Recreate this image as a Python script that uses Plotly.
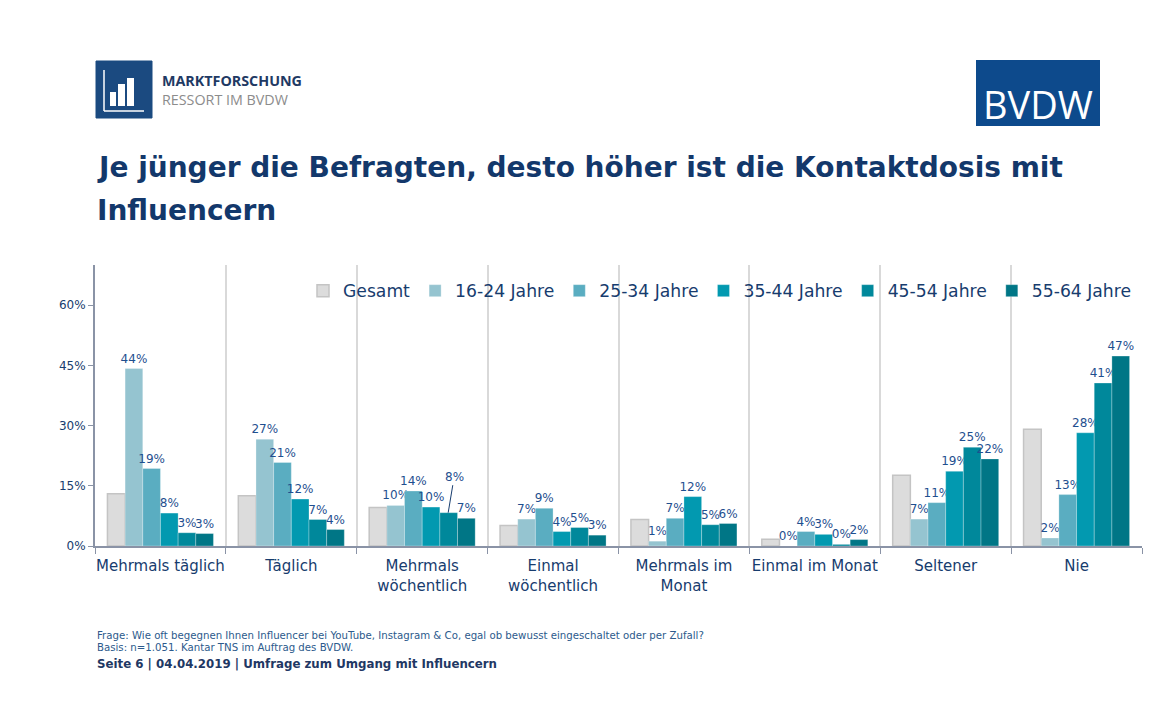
import plotly.graph_objects as go

categories = ["Mehrmals täglich", "Täglich", "Mehrmals<br>wöchentlich", "Einmal<br>wöchentlich",
              "Mehrmals im<br>Monat", "Einmal im Monat", "Seltener", "Nie"]
series_names = ["Gesamt", "16-24 Jahre", "25-34 Jahre", "35-44 Jahre", "45-54 Jahre", "55-64 Jahre"]

gesamt = [13.0, 12.5, 9.6, 5.1, 6.6, 1.7, 17.6, 29.1]
j16_24 = [44.2, 26.6, 10.1, 6.7, 1.2, 0.0, 6.7, 2.0]
j25_34 = [19.3, 20.8, 13.7, 9.4, 6.9, 3.6, 10.8, 12.8]
j35_44 = [8.2, 11.7, 9.7, 3.6, 12.3, 2.9, 18.6, 28.2]
j45_54 = [3.3, 6.6, 8.3, 4.6, 5.3, 0.4, 24.6, 40.6]
j55_64 = [3.1, 4.1, 6.9, 2.7, 5.6, 1.6, 21.7, 47.3]

y_ticks = [0, 15, 30, 45, 60]
y_tick_labels = ["0%", "15%", "30%", "45%", "60%"]

colors = ["#dcdcdc", "#95c4d0", "#5aadc1", "#0299b0", "#00889b", "#007686"]

navy = "#173c6e"
label_blue = "#1f4f8f"

# the page puts the figure 8px in from the top left corner
OFF = 8
W, H = 1153 - 2 * OFF, 723 - 2 * OFF
# plot area in page pixels
X0, X1, Y0, Y1 = 95, 1142, 265, 546


def px(x):
    return (x - X0) / (X1 - X0)


def py(y):
    return (Y1 - y) / (Y1 - Y0)


fig = go.Figure()
all_series = [gesamt, j16_24, j25_34, j35_44, j45_54, j55_64]
for i, (name, vals) in enumerate(zip(series_names, all_series)):
    if i == 0:
        texts = ["" for v in vals]
        line = dict(color="#c4c4c4", width=1.5)
    else:
        texts = ["%d%%" % int(v + 0.5) for v in vals]
        line = dict(color="rgba(255,255,255,0.35)", width=0.8)
    if i == 4:
        texts[2] = ""  # shown with a leader line below
    fig.add_trace(go.Bar(
        x=categories, y=vals, name=name, marker=dict(color=colors[i], line=line),
        text=texts, textposition="outside", cliponaxis=False, constraintext="none",
        textfont=dict(size=12, color=label_blue, family="DejaVu Sans"),
    ))

# leader-line label for 45-54 in "Mehrmals wöchentlich"
fig.add_annotation(x=categories[2], y=j45_54[2], xshift=26, text="8%", showarrow=True,
                   arrowhead=0, arrowwidth=1, arrowcolor=navy, ax=6, ay=-36,
                   font=dict(size=12, color=label_blue, family="DejaVu Sans"))

fig.update_layout(
    width=W, height=H,
    margin=dict(l=X0 - OFF, r=W - (X1 - OFF), t=Y0 - OFF, b=H - (Y1 - OFF), pad=0,
                autoexpand=False),
    paper_bgcolor="white", plot_bgcolor="white",
    barmode="group", bargap=0.19, bargroupgap=0,
    font=dict(family="DejaVu Sans", color=navy),
    showlegend=True,
    legend=dict(orientation="h", x=px(303), y=py(291), xanchor="left", yanchor="middle",
                font=dict(size=17.2, color=navy), bgcolor="rgba(0,0,0,0)",
                traceorder="normal", itemclick=False),
)

fig.update_yaxes(range=[0, 70], tickvals=y_ticks, ticktext=y_tick_labels,
                 showgrid=False, zeroline=False, showline=True, linecolor="#8a93a6", linewidth=2,
                 ticks="outside", ticklen=5, tickcolor="#8a93a6",
                 tickfont=dict(size=12, color=navy))
fig.update_xaxes(tickson="boundaries", tickangle=0, showgrid=True, gridcolor="#d9d9d9", gridwidth=1.5,
                 showline=True, linecolor="#8a93a6", linewidth=2,
                 ticks="outside", ticklen=6, tickcolor="#8a93a6", ticklabelstandoff=5,
                 tickfont=dict(size=15, color=navy))

# title
fig.add_annotation(xref="paper", yref="paper", x=px(95), y=py(167), xanchor="left", yanchor="middle",
                   text="<b>Je jünger die Befragten, desto höher ist die Kontaktdosis mit</b>",
                   showarrow=False, font=dict(size=28, color="#13386b"))
fig.add_annotation(xref="paper", yref="paper", x=px(95), y=py(210), xanchor="left", yanchor="middle",
                   text="<b>Influencern</b>", showarrow=False, font=dict(size=28, color="#13386b"))

# left logo
shapes = [
    dict(type="rect", xref="paper", yref="paper", x0=px(96), x1=px(152), y0=py(118), y1=py(61),
         fillcolor="#1b4a80", line=dict(color="#1b4a80", width=1)),
    dict(type="line", xref="paper", yref="paper", x0=px(104), x1=px(104), y0=py(111), y1=py(70),
         line=dict(color="white", width=1.5)),
    dict(type="line", xref="paper", yref="paper", x0=px(104), x1=px(144), y0=py(111), y1=py(111),
         line=dict(color="white", width=1.5)),
    dict(type="rect", xref="paper", yref="paper", x0=px(110), x1=px(116), y0=py(106), y1=py(92),
         fillcolor="white", line=dict(width=0)),
    dict(type="rect", xref="paper", yref="paper", x0=px(118), x1=px(125), y0=py(106), y1=py(84),
         fillcolor="white", line=dict(width=0)),
    dict(type="rect", xref="paper", yref="paper", x0=px(127), x1=px(134), y0=py(106), y1=py(78),
         fillcolor="white", line=dict(width=0)),
    # BVDW logo
    dict(type="rect", xref="paper", yref="paper", x0=px(976), x1=px(1100), y0=py(126), y1=py(60),
         fillcolor="#0d4a8c", line=dict(width=0)),
]
fig.update_layout(shapes=shapes)

fig.add_annotation(xref="paper", yref="paper", x=px(160), y=py(80.5), xanchor="left", yanchor="middle",
                   text="<b>MARKTFORSCHUNG</b>", showarrow=False,
                   font=dict(size=14.3, color="#1f3a64", family="Open Sans"))
fig.add_annotation(xref="paper", yref="paper", x=px(160), y=py(99.5), xanchor="left", yanchor="middle",
                   text="RESSORT IM BVDW", showarrow=False,
                   font=dict(size=14.3, color="#8c8c8c", family="Open Sans"))
fig.add_annotation(xref="paper", yref="paper", x=px(1038), y=py(104), xanchor="center", yanchor="middle",
                   text="BVDW", showarrow=False,
                   font=dict(size=38, color="white", family="Open Sans"))

# footer
fig.add_annotation(xref="paper", yref="paper", x=px(95), y=py(635), xanchor="left", yanchor="middle",
                   text="Frage: Wie oft begegnen Ihnen Influencer bei YouTube, Instagram & Co, egal ob bewusst eingeschaltet oder per Zufall?",
                   showarrow=False, font=dict(size=10.2, color="#2c5a8c"))
fig.add_annotation(xref="paper", yref="paper", x=px(95), y=py(647), xanchor="left", yanchor="middle",
                   text="Basis: n=1.051. Kantar TNS im Auftrag des BVDW.",
                   showarrow=False, font=dict(size=10.2, color="#2c5a8c"))
fig.add_annotation(xref="paper", yref="paper", x=px(95), y=py(664), xanchor="left", yanchor="middle",
                   text="<b>Seite 6 | 04.04.2019 | Umfrage zum Umgang mit Influencern</b>",
                   showarrow=False, font=dict(size=11.8, color="#1f3864"))

fig.write_html("out.html")
